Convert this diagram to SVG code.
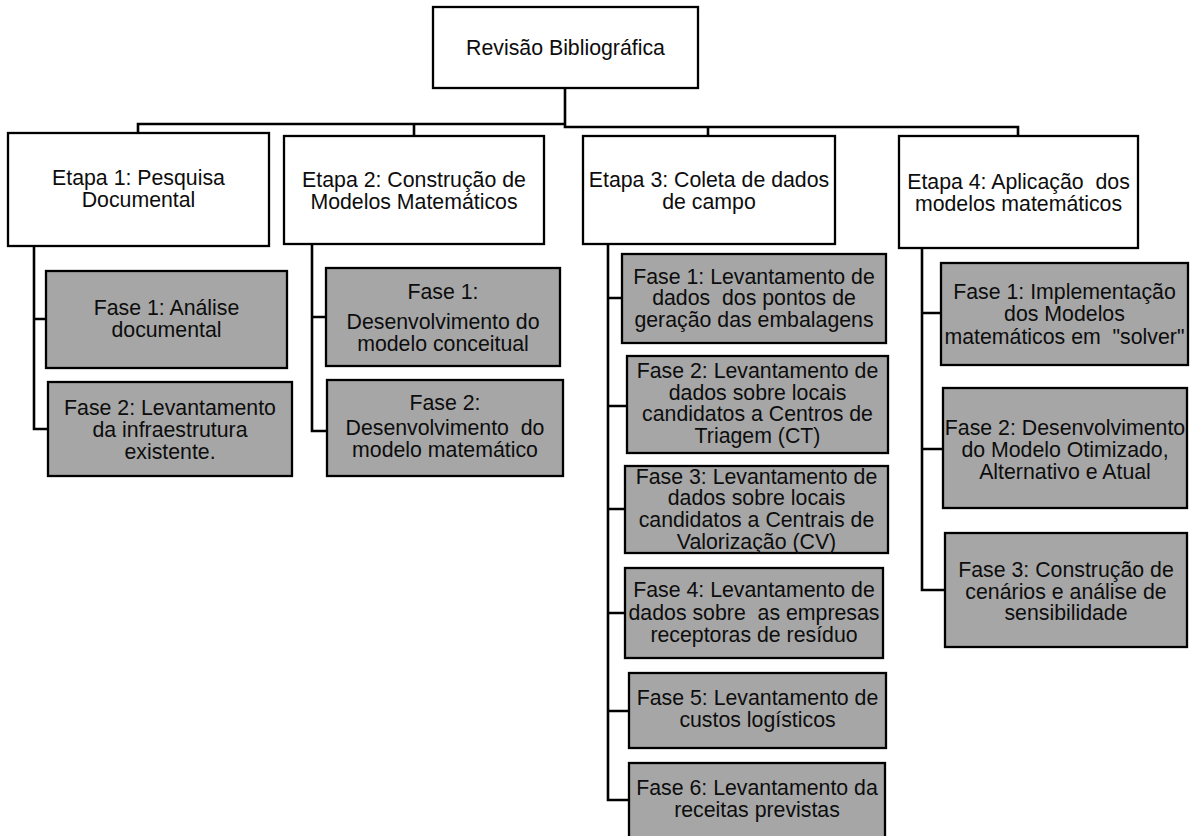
<svg xmlns="http://www.w3.org/2000/svg" width="1193" height="836" viewBox="0 0 1193 836">
<style>
.w{fill:#ffffff;stroke:#000;stroke-width:2.3}
.g{fill:#a6a6a6;stroke:#000;stroke-width:2.3}
text{font-family:"Liberation Sans",Arial,sans-serif;font-size:21.3px;fill:#0d0d0d;text-anchor:middle;white-space:pre}
.c{fill:none;stroke:#000;stroke-width:2.6}
</style>
<rect width="1193" height="836" fill="#fff"/>
<g id="connectors">
<path class="c" d="M565,88 V127 H1018 V136"/>
<path class="c" d="M138,133 V124 H565"/>
<path class="c" d="M414,124 V136"/>
<path class="c" d="M708,127 V136"/>
<path class="c" d="M34,246 V429 H48 M34,319 H46"/>
<path class="c" d="M312,244 V431 H327 M312,317 H326"/>
<path class="c" d="M608,244 V800 H629 M608,298 H622 M608,406 H627 M608,509 H625 M608,613 H625 M608,711 H629"/>
<path class="c" d="M922,248 V590 H945 M922,313 H941 M922,449 H943"/>
</g>
<g id="root">
<rect class="w" x="433" y="7" width="265" height="81"/>
<text x="565.5" y="55">Revisão Bibliográfica</text>
</g>
<g id="etapa1">
<rect class="w" x="8" y="133" width="261" height="113"/>
<text x="138.5" y="185">Etapa 1: Pesquisa</text>
<text x="138.5" y="207">Documental</text>
</g>
<g id="etapa2">
<rect class="w" x="284" y="136" width="260" height="108"/>
<text x="414" y="187">Etapa 2: Construção de</text>
<text x="414" y="209">Modelos Matemáticos</text>
</g>
<g id="etapa3">
<rect class="w" x="583" y="136" width="252" height="108"/>
<text x="709" y="187">Etapa 3: Coleta de dados</text>
<text x="709" y="209">de campo</text>
</g>
<g id="etapa4">
<rect class="w" x="899" y="136" width="239" height="112"/>
<text x="1018.5" y="189">Etapa 4: Aplicação  dos</text>
<text x="1018.5" y="211">modelos matemáticos</text>
</g>
<g id="e1f1">
<rect class="g" x="46" y="271" width="241" height="97"/>
<text x="166.5" y="315">Fase 1: Análise</text>
<text x="166.5" y="337">documental</text>
</g>
<g id="e1f2">
<rect class="g" x="48" y="382" width="244" height="94"/>
<text x="170" y="415">Fase 2: Levantamento</text>
<text x="170" y="437">da infraestrutura</text>
<text x="170" y="459">existente.</text>
</g>
<g id="e2f1">
<rect class="g" x="326" y="268" width="234" height="98"/>
<text x="443" y="299">Fase 1:</text>
<text x="443" y="329">Desenvolvimento do</text>
<text x="443" y="351">modelo conceitual</text>
</g>
<g id="e2f2">
<rect class="g" x="327" y="380" width="236" height="96"/>
<text x="445" y="410">Fase 2:</text>
<text x="445" y="435">Desenvolvimento  do</text>
<text x="445" y="457">modelo matemático</text>
</g>
<g id="e3f1">
<rect class="g" x="622" y="254" width="264" height="89"/>
<text x="754" y="284">Fase 1: Levantamento de</text>
<text x="754" y="305">dados  dos pontos de</text>
<text x="754" y="327">geração das embalagens</text>
</g>
<g id="e3f2">
<rect class="g" x="627" y="356" width="261" height="97"/>
<text x="757.5" y="378">Fase 2: Levantamento de</text>
<text x="757.5" y="400">dados sobre locais</text>
<text x="757.5" y="421">candidatos a Centros de</text>
<text x="757.5" y="443">Triagem (CT)</text>
</g>
<g id="e3f3">
<rect class="g" x="625" y="466" width="263" height="87"/>
<text x="756.5" y="484">Fase 3: Levantamento de</text>
<text x="756.5" y="505">dados sobre locais</text>
<text x="756.5" y="527">candidatos a Centrais de</text>
<text x="756.5" y="549">Valorização (CV)</text>
</g>
<g id="e3f4">
<rect class="g" x="625" y="568" width="258" height="90"/>
<text x="754" y="597">Fase 4: Levantamento de</text>
<text x="754" y="620">dados sobre  as empresas</text>
<text x="754" y="642">receptoras de resíduo</text>
</g>
<g id="e3f5">
<rect class="g" x="629" y="673" width="257" height="75"/>
<text x="757.5" y="705">Fase 5: Levantamento de</text>
<text x="757.5" y="727">custos logísticos</text>
</g>
<g id="e3f6">
<rect class="g" x="629" y="763" width="256" height="76"/>
<text x="757" y="795">Fase 6: Levantamento da</text>
<text x="757" y="817">receitas previstas</text>
</g>
<g id="e4f1">
<rect class="g" x="941" y="263" width="247" height="102"/>
<text x="1064.5" y="299">Fase 1: Implementação</text>
<text x="1064.5" y="321">dos Modelos</text>
<text x="1064.5" y="344">matemáticos em  "solver"</text>
</g>
<g id="e4f2">
<rect class="g" x="943" y="388" width="244" height="120"/>
<text x="1065" y="435">Fase 2: Desenvolvimento</text>
<text x="1065" y="457">do Modelo Otimizado,</text>
<text x="1065" y="479">Alternativo e Atual</text>
</g>
<g id="e4f3">
<rect class="g" x="945" y="533" width="242" height="114"/>
<text x="1066" y="577">Fase 3: Construção de</text>
<text x="1066" y="599">cenários e análise de</text>
<text x="1066" y="620">sensibilidade</text>
</g>
</svg>
